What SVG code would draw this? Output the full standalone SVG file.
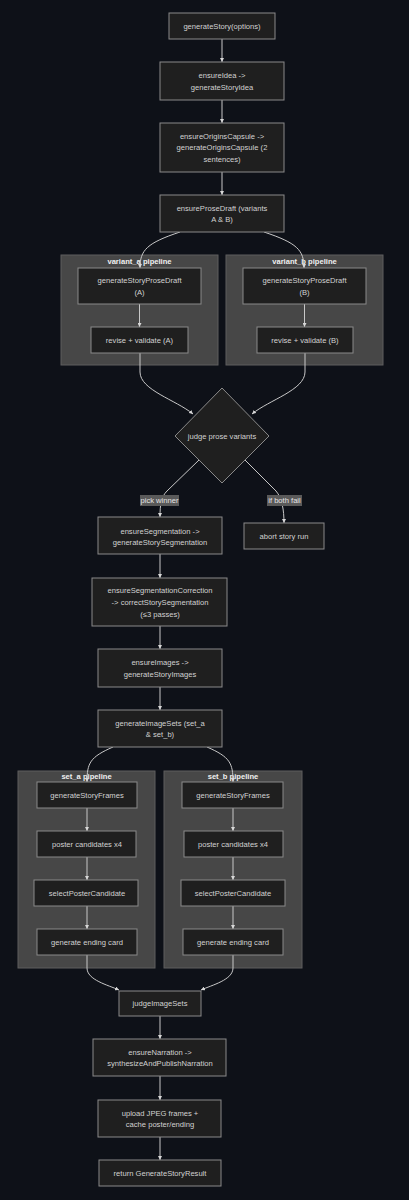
<svg xmlns="http://www.w3.org/2000/svg" width="409" height="1200" viewBox="0 0 409 1200">
<defs>
<style>
.bg{fill:#0e1118}
.node rect,.node polygon{fill:#1f1f1f;stroke:#8a8a8a;stroke-width:1}
.cluster rect{fill:#474747;stroke:#5e5e5e;stroke-width:1}
text{font-family:"Liberation Sans",Arial,sans-serif;font-size:7.6px;fill:#d2d2d2;text-anchor:middle;dominant-baseline:central}
.ct{fill:#f0f0f0;font-weight:bold}
.edges path{fill:none;stroke:#c8c8c8;stroke-width:1;marker-end:url(#arr)}
.lbl rect{fill:#5a5a5a}
.lbl text{fill:#e6e6e6}
</style>
<marker id="arr" viewBox="0 0 10 10" refX="10" refY="5" markerWidth="4" markerHeight="4" orient="auto" markerUnits="userSpaceOnUse">
<path d="M0,0 L10,5 L0,10 z" fill="#d8d8d8"/>
</marker>
</defs>
<rect class="bg" x="0" y="0" width="409" height="1200"/>

<g id="cluster_variant_a" class="cluster"><rect x="61" y="255" width="157" height="110"/><text class="ct" x="139.5" y="261">variant_a pipeline</text></g>
<g id="cluster_variant_b" class="cluster"><rect x="226" y="255" width="157" height="110"/><text class="ct" x="304.5" y="261">variant_b pipeline</text></g>
<g id="cluster_set_a" class="cluster"><rect x="18" y="771" width="137" height="197"/><text class="ct" x="86.5" y="776">set_a pipeline</text></g>
<g id="cluster_set_b" class="cluster"><rect x="164" y="771" width="138" height="197"/><text class="ct" x="233" y="776">set_b pipeline</text></g>

<g id="edges" class="edges">
<path d="M222,39 L222,62"/>
<path d="M222,100 L222,123"/>
<path d="M222,172 L222,195"/>
<path d="M180,232 C147,243 140,250 140,268"/>
<path d="M264,232 C297,243 304,250 304,268"/>
<path d="M139.5,304 L139.5,327"/>
<path d="M304.5,304 L304.5,327"/>
<path d="M140,353 L140,372 C140,390 176,400 193,414"/>
<path d="M305,353 L305,372 C305,390 269,400 252,414"/>
<path d="M199,460 L167,491 C161,497 160,505 160,517"/>
<path d="M245,460 L276,491 C282,498 284,510 284,523"/>
<path d="M160,554 L160,578"/>
<path d="M160,626 L160,649"/>
<path d="M160,687 L160,710"/>
<path d="M113,747 C90,757 87,763 87,782"/>
<path d="M207,747 C230,757 233,763 233,782"/>
<path d="M87,808 L87,831"/>
<path d="M87,857 L87,880"/>
<path d="M87,906 L87,929"/>
<path d="M233,808 L233,831"/>
<path d="M233,857 L233,880"/>
<path d="M233,906 L233,929"/>
<path d="M87,955 L87,968 C87,980 108,985 119,990"/>
<path d="M233,955 L233,968 C233,980 212,985 201,990"/>
<path d="M160,1016 L160,1039"/>
<path d="M160,1076 L160,1100"/>
<path d="M160,1137 L160,1160"/>
</g>

<g id="label_pick" class="lbl"><rect x="140" y="495" width="39" height="11"/><text x="159.5" y="500.5">pick winner</text></g>
<g id="label_fail" class="lbl"><rect x="267" y="495" width="35" height="11"/><text x="284.5" y="500.5">if both fail</text></g>

<g id="n_generateStory" class="node"><rect x="169" y="13" width="106" height="26"/><text x="222" y="26">generateStory(options)</text></g>
<g id="n_ensureIdea" class="node"><rect x="160" y="62" width="124" height="38"/><text x="222" y="75.5">ensureIdea -&gt;</text><text x="222" y="87">generateStoryIdea</text></g>
<g id="n_origins" class="node"><rect x="160" y="123" width="124" height="49"/><text x="222" y="136">ensureOriginsCapsule -&gt;</text><text x="222" y="147.5">generateOriginsCapsule (2</text><text x="222" y="159">sentences)</text></g>
<g id="n_prose" class="node"><rect x="160" y="195" width="124" height="37"/><text x="222" y="208">ensureProseDraft (variants</text><text x="222" y="219.5">A &amp; B)</text></g>
<g id="n_draftA" class="node"><rect x="78" y="268" width="123" height="36"/><text x="139.5" y="280">generateStoryProseDraft</text><text x="139.5" y="292">(A)</text></g>
<g id="n_reviseA" class="node"><rect x="91" y="327" width="97" height="26"/><text x="139.5" y="340">revise + validate (A)</text></g>
<g id="n_draftB" class="node"><rect x="243" y="268" width="123" height="36"/><text x="304.5" y="280">generateStoryProseDraft</text><text x="304.5" y="292">(B)</text></g>
<g id="n_reviseB" class="node"><rect x="257" y="327" width="96" height="26"/><text x="305" y="340">revise + validate (B)</text></g>
<g id="n_judge" class="node"><polygon points="222,388 269,436 222,483 175,436"/><text x="222" y="436">judge prose variants</text></g>
<g id="n_seg" class="node"><rect x="98" y="517" width="124" height="37"/><text x="160" y="531">ensureSegmentation -&gt;</text><text x="160" y="542">generateStorySegmentation</text></g>
<g id="n_abort" class="node"><rect x="244" y="523" width="80" height="26"/><text x="284" y="536">abort story run</text></g>
<g id="n_segcorr" class="node"><rect x="92" y="578" width="135" height="48"/><text x="160" y="590.5">ensureSegmentationCorrection</text><text x="160" y="602">-&gt; correctStorySegmentation</text><text x="160" y="614">(≤3 passes)</text></g>
<g id="n_images" class="node"><rect x="98" y="649" width="124" height="38"/><text x="160" y="662.5">ensureImages -&gt;</text><text x="160" y="674">generateStoryImages</text></g>
<g id="n_imagesets" class="node"><rect x="98" y="710" width="124" height="37"/><text x="160" y="723">generateImageSets (set_a</text><text x="160" y="734">&amp; set_b)</text></g>
<g id="n_framesA" class="node"><rect x="37" y="782" width="100" height="26"/><text x="87" y="795">generateStoryFrames</text></g>
<g id="n_posterA" class="node"><rect x="37" y="831" width="99" height="26"/><text x="87" y="844">poster candidates x4</text></g>
<g id="n_selectA" class="node"><rect x="34" y="880" width="104" height="26"/><text x="87" y="893">selectPosterCandidate</text></g>
<g id="n_endA" class="node"><rect x="37" y="929" width="100" height="26"/><text x="87" y="942">generate ending card</text></g>
<g id="n_framesB" class="node"><rect x="182" y="782" width="101" height="26"/><text x="233" y="795">generateStoryFrames</text></g>
<g id="n_posterB" class="node"><rect x="184" y="831" width="99" height="26"/><text x="233" y="844">poster candidates x4</text></g>
<g id="n_selectB" class="node"><rect x="181" y="880" width="104" height="26"/><text x="233" y="893">selectPosterCandidate</text></g>
<g id="n_endB" class="node"><rect x="183" y="929" width="100" height="26"/><text x="233" y="942">generate ending card</text></g>
<g id="n_judgeSets" class="node"><rect x="119" y="991" width="82" height="25"/><text x="160" y="1003.5">judgeImageSets</text></g>
<g id="n_narration" class="node"><rect x="93" y="1039" width="133" height="37"/><text x="160" y="1052">ensureNarration -&gt;</text><text x="160" y="1063.5">synthesizeAndPublishNarration</text></g>
<g id="n_upload" class="node"><rect x="98" y="1100" width="123" height="37"/><text x="160" y="1113">upload JPEG frames +</text><text x="160" y="1124.5">cache poster/ending</text></g>
<g id="n_return" class="node"><rect x="99" y="1160" width="122" height="26"/><text x="160" y="1173">return GenerateStoryResult</text></g>
</svg>
